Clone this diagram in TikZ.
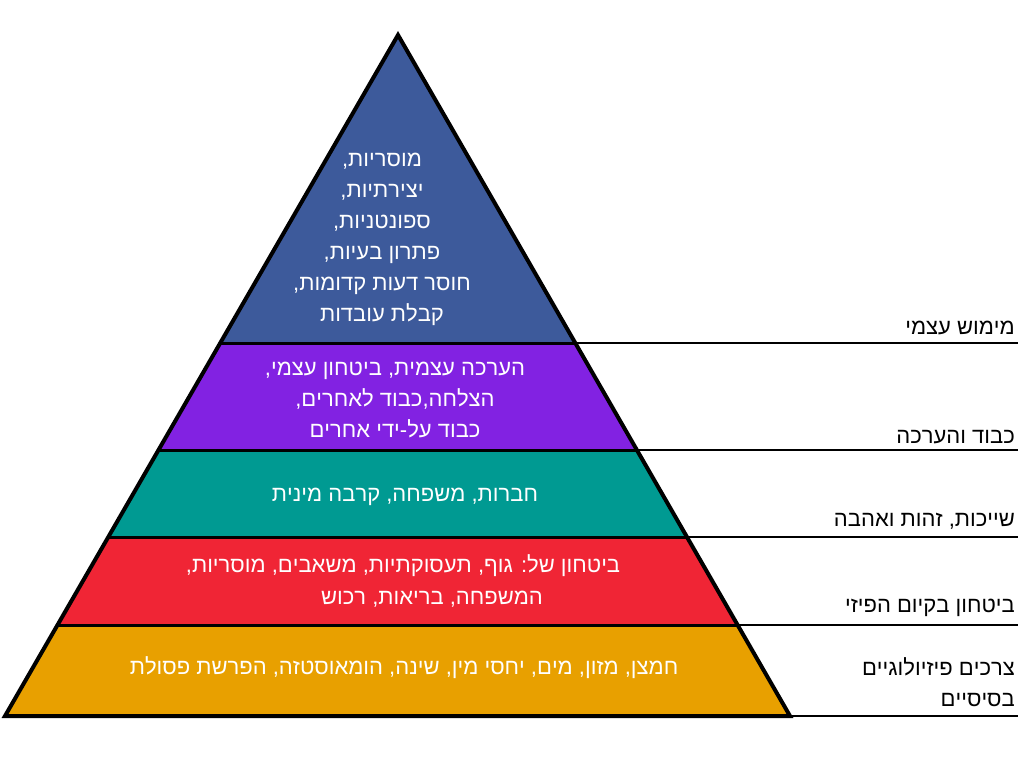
\documentclass[tikz,border=0pt]{standalone}
\usepackage{fontspec}
\setmainfont{Liberation Sans}
\TeXXeTstate=1
\begin{document}
\begin{tikzpicture}[x=1pt,y=-1pt,
  lbl/.style={font=\fontsize{22}{31}\selectfont,text=white,align=center,inner sep=0},
  side/.style={font=\fontsize{22}{31}\selectfont,anchor=south east,align=right,inner sep=0},
  sep/.style={line width=2pt}]
\useasboundingbox (0,0) rectangle (1024,768);
\def\L#1{398-0.5771*(#1-35)}
\def\R#1{398+0.5756*(#1-35)}
\definecolor{c1}{HTML}{3D5A9B}
\definecolor{c2}{HTML}{8222E2}
\definecolor{c3}{HTML}{009A92}
\definecolor{c4}{HTML}{F02535}
\definecolor{c5}{HTML}{E8A000}
\fill[c1] (398,35) -- ({\R{343}},343) -- ({\L{343}},343) -- cycle;
\fill[c2] ({\L{343}},343) -- ({\R{343}},343) -- ({\R{450}},450) -- ({\L{450}},450) -- cycle;
\fill[c3] ({\L{450}},450) -- ({\R{450}},450) -- ({\R{537}},537) -- ({\L{537}},537) -- cycle;
\fill[c4] ({\L{537}},537) -- ({\R{537}},537) -- ({\R{625}},625) -- ({\L{625}},625) -- cycle;
\fill[c5] ({\L{625}},625) -- ({\R{625}},625) -- ({\R{716}},716) -- ({\L{716}},716) -- cycle;
\foreach \y in {343,450,537,625}{\draw[line width=3pt] ({\L{\y}},\y) -- ({\R{\y}},\y);}
\foreach \y in {343,450,537,625,716}{\draw[sep] ({\R{\y}},\y) -- (1018,\y);}
\draw[line width=4pt,line join=miter] (398,35) -- ({\R{716}},716) -- ({\L{716}},716) -- cycle;
\node[lbl] (t1) at (382,239) {\beginR מוסריות,\endR\\\beginR יצירתיות,\endR\\\beginR ספונטניות,\endR\\\beginR פתרון בעיות,\endR\\\beginR חוסר דעות קדומות,\endR\\\beginR קבלת עובדות\endR};
\node[lbl] (t2) at (395,400) {\beginR הערכה עצמית, ביטחון עצמי,\endR\\\beginR הצלחה,כבוד לאחרים,\endR\\\beginR כבוד על-ידי אחרים\endR};
\node[lbl] (t3) at (405,497) {\beginR חברות, משפחה, קרבה מינית\endR};
\node[lbl] (t4a) at (403,566) {\beginR ביטחון של: גוף, תעסוקתיות, משאבים, מוסריות,\endR};
\node[lbl] (t4b) at (432,599) {\beginR המשפחה, בריאות, רכוש\endR};
\node[lbl] (t5) at (404,668) {\beginR חמצן, מזון, מים, יחסי מין, שינה, הומאוסטזה, הפרשת פסולת\endR};
\node[side] (s1) at (1015,335) {\beginR מימוש עצמי\endR};
\node[side] (s2) at (1015,444) {\beginR כבוד והערכה\endR};
\node[side] (s3) at (1015,530) {\beginR שייכות, זהות ואהבה\endR};
\node[side] (s4) at (1015,617) {\beginR ביטחון בקיום הפיזי\endR};
\node[side] (s5) at (1015,707) {\beginR צרכים פיזיולוגיים\endR\\\beginR בסיסיים\endR};
\end{tikzpicture}
\end{document}
